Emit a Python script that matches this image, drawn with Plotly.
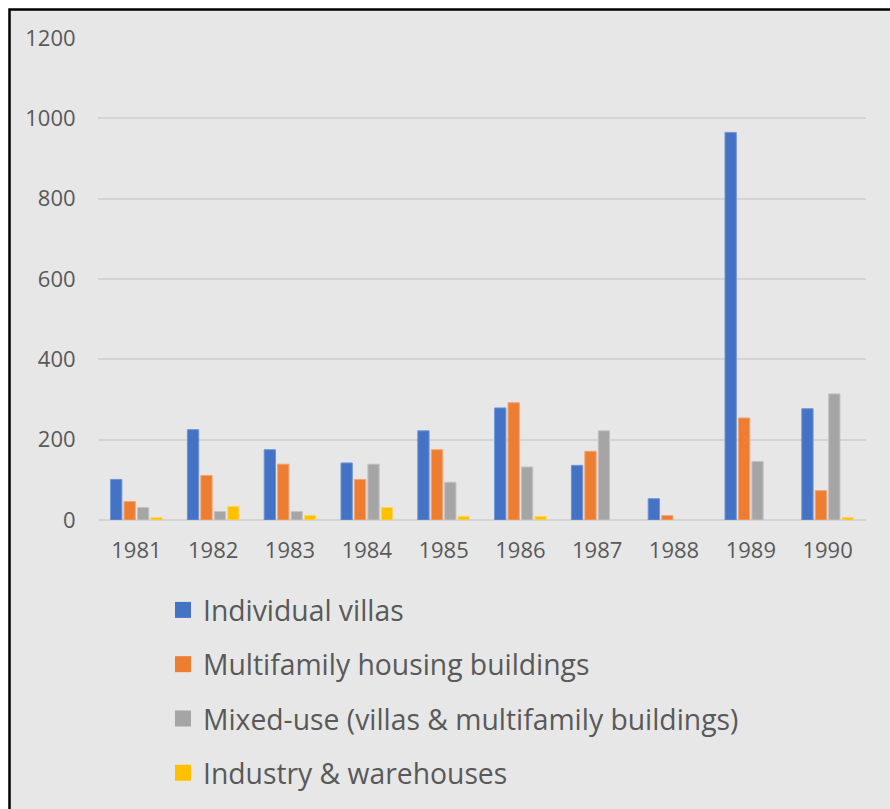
import plotly.graph_objects as go

years = ["1981", "1982", "1983", "1984", "1985", "1986", "1987", "1988", "1989", "1990"]

individual_villas = [101, 225, 175, 142, 222, 279, 136, 53, 965, 277]
multifamily = [46, 111, 139, 101, 175, 292, 171, 11, 254, 73]
mixed_use = [31, 21, 21, 139, 94, 132, 222, 0, 146, 314]
industry = [6, 34, 11, 31, 9, 9, 0, 0, 0, 6]

series = [
    ("Individual villas", individual_villas, "#4472C4", "#6f93d6"),
    ("Multifamily housing buildings", multifamily, "#ED7D31", "#f4a470"),
    ("Mixed-use (villas & multifamily buildings)", mixed_use, "#A5A5A5", "#c3c3c3"),
    ("Industry & warehouses", industry, "#FFC000", "#ffd65c"),
]

font_dict = dict(family="Open Sans, sans-serif", color="#595959", size=22)

fig = go.Figure()
for i, (name, vals, color, edge) in enumerate(series):
    fig.add_trace(go.Bar(x=years, y=vals, name=name,
                         marker=dict(color=color,
                                     line=dict(color=edge, width=[1 if v else 0 for v in vals])),
                         legendgroup=f"g{i}", showlegend=False))
    # legend swatch (bigger square than plotly's default bar swatch)
    fig.add_trace(go.Scatter(x=[None], y=[None], name=name, mode="markers",
                             marker=dict(symbol="square", size=17, color=color),
                             legendgroup=f"g{i}", showlegend=True))

W, H = 890, 809
L, R, T, B = 98, 24, 38, 289
pw = W - L - R
ph = H - T - B


def px_x(p):
    return (p - L) / pw


def px_y(p):
    return (H - B - p) / ph


# grey chart panel with black frame on the left and top only (cropped screenshot)
fig.add_shape(type="rect", xref="paper", yref="paper",
              x0=px_x(9.5), x1=px_x(910), y0=px_y(840), y1=px_y(9.5),
              fillcolor="#E7E7E7", line=dict(color="black", width=2.5), layer="below")

fig.update_layout(
    width=W, height=H,
    margin=dict(l=L, r=R, t=T, b=B, autoexpand=False),
    paper_bgcolor="white",
    plot_bgcolor="rgba(0,0,0,0)",
    font=font_dict,
    barmode="group",
    bargap=0.3,
    bargroupgap=0.16,
    showlegend=True,
    legend=dict(orientation="v", x=px_x(163), xanchor="left",
                y=px_y(585), yanchor="top",
                font=dict(size=28.3, color="#595959"),
                tracegroupgap=14.5, bgcolor="rgba(0,0,0,0)"),
)

fig.update_xaxes(showgrid=False, showline=False, ticks="outside", ticklen=11,
                 tickcolor="rgba(0,0,0,0)")
fig.update_yaxes(range=[0, 1200], dtick=200, showgrid=True, gridcolor="#D4D4D4", gridwidth=1.5,
                 zeroline=True, zerolinecolor="#D4D4D4", zerolinewidth=2,
                 ticks="outside", ticklen=17, tickcolor="rgba(0,0,0,0)")

# drop the default 8px body margin so the figure fills the window exactly
fig.write_html("out.html", config={"displayModeBar": False},
               post_script="document.body.style.margin='0';document.body.style.overflow='hidden';")
